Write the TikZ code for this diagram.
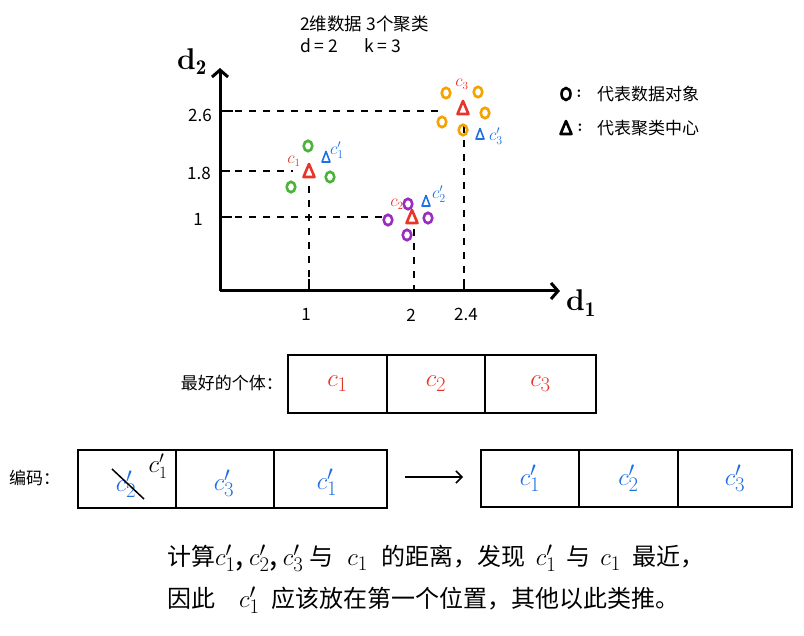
\documentclass[tikz,border=0pt]{standalone}
\usepackage{fontspec}
\newfontfamily\cjk{Noto Sans CJK SC}
\usetikzlibrary{arrows.meta}
\definecolor{hred}{HTML}{E8352A}
\definecolor{hgreen}{HTML}{4DB33D}
\definecolor{hpurple}{HTML}{9A2DBF}
\definecolor{horange}{HTML}{F4A300}
\definecolor{hblue}{HTML}{1F6FE5}
\newcommand\fs[1]{\fontsize{#1}{#1}\selectfont}
\newcommand\datapt[3]{\draw[line width=2.6pt,#3] (#1,#2) ellipse (4.3 and 5.2);}
\newcommand\ctri[3]{\draw[line width=2.6pt,#3,line join=round] (#1,#2) ++(-5.5,6) -- ++(5.5,-13) -- ++(5.5,13) -- cycle;}
\newcommand\btri[2]{\draw[line width=1.6pt,hblue,line join=round] (#1,#2) ++(-4,5) -- ++(4,-10.5) -- ++(4,10.5) -- cycle;}
\tikzset{
  axisline/.style={line width=3pt,-{Straight Barb[length=7pt,width=16pt,line width=3pt]}},
  guide/.style={line width=1.8pt,dash pattern=on 7pt off 7pt},
  tickline/.style={line width=1.8pt},
  hand/.style={font=\cjk\fs{17}, inner sep=0pt},
  cell/.style={draw,line width=2pt,minimum height=58pt,inner sep=0pt},
  cjktext/.style={font=\cjk\fs{17}, inner sep=0pt},
  bigtext/.style={font=\cjk\fs{24}, inner sep=0pt, anchor=west},
  small/.style={inner sep=0pt,font=\fs{16}}
}
\begin{document}
\begin{tikzpicture}[x=1pt,y=-1pt]
\useasboundingbox (0,0) rectangle (804,636);
% title
\node[cjktext,anchor=west,font=\cjk\fs{17.5}] (title1) at (300,24) {2维数据 3个聚类};
\node[cjktext,anchor=west,font=\cjk\fs{17.5}] (title2) at (300,46) {d = 2\hspace{26pt}k = 3};
% axes
\coordinate (O) at (220,291);
\coordinate (ytop) at (220,68);
\coordinate (xend) at (560,291);
\draw[axisline] (O) -- (ytop);
\draw[axisline] (O) -- (xend);
\node[inner sep=0pt,font=\bfseries\fs{30}] (d2) at (192,62) {d$_{\mathbf 2}$};
\node[inner sep=0pt,font=\bfseries\fs{30}] (d1) at (581,303) {d$_{\mathbf 1}$};
% y ticks
\coordinate (y26) at (220,111); \coordinate (y18) at (220,171); \coordinate (y1) at (220,217);
\draw[tickline] (y26) -- ++(13,0);
\draw[tickline] (y18) -- ++(10,0);
\draw[tickline] (y1) -- ++(12,0);
\node[hand] (l26) at (200,115) {2.6};
\node[hand] (l18) at (199,173) {1.8};
\node[hand] (l1y) at (198,219) {1};
% x ticks
\coordinate (x1) at (309,291); \coordinate (x2) at (414,291); \coordinate (x24) at (464,291);
\draw[tickline] (x1) -- ++(0,-12);
\draw[tickline] (x24) -- ++(0,-12);
\node[hand] (l1x) at (306,314) {1};
\node[hand] (l2x) at (411,315) {2};
\node[hand] (l24x) at (466,314) {2.4};
% guides
\draw[guide] (235,111) -- (440,111);
\draw[guide] (235,171) -- (293,171);
\draw[guide] (235,217) -- (382,217);
\draw[guide] (309,186) -- (309,279);
\draw[guide] (414,229) -- (414,291);
\draw[guide] (464,126) -- (464,279);
% cluster 1
\datapt{308}{146}{hgreen}
\datapt{291}{187}{hgreen}
\datapt{330}{177}{hgreen}
\ctri{309}{171}{hred}
\node[small,text=hred] (c1lab) at (294,161) {$c_1$};
\btri{326}{157}
\node[small,text=hblue,font=\fs{17}] (c1plab) at (337,150) {$c_1'$};
% cluster 2
\datapt{408}{204}{hpurple}
\datapt{388}{220}{hpurple}
\datapt{428}{218}{hpurple}
\datapt{407}{235}{hpurple}
\ctri{412}{217}{hred}
\node[small,text=hred] (c2lab) at (397,204) {$c_2$};
\btri{426}{201}
\node[small,text=hblue,font=\fs{17}] (c2plab) at (439,194) {$c_2'$};
% cluster 3
\datapt{446}{93}{horange}
\datapt{478}{92}{horange}
\datapt{485}{113}{horange}
\datapt{442}{122}{horange}
\datapt{463}{130}{horange}
\ctri{463}{108}{hred}
\node[small,text=hred] (c3lab) at (462,84) {$c_3$};
\btri{480}{134}
\node[small,text=hblue,font=\fs{17}] (c3plab) at (496,136) {$c_3'$};
% legend
\draw[line width=2.6pt] (566,94) ellipse (4.5 and 6);
\node[cjktext,font=\bfseries\fs{17}] (lcolon1) at (579,94) {:};
\node[cjktext,anchor=west] (leg1) at (597,94) {代表数据对象};
\ctri{566}{128}{black}
\node[cjktext,font=\bfseries\fs{17}] (lcolon2) at (580,128) {:};
\node[cjktext,anchor=west] (leg2) at (597,128) {代表聚类中心};
% box 1
\node[cjktext,anchor=east] (bestlab) at (283,383) {最好的个体：};
\node[cell,minimum width=99pt] (b1a) at (337.5,384) {};
\node[cell,minimum width=98pt] (b1b) at (436,384) {};
\node[cell,minimum width=111pt] (b1c) at (540.5,384) {};
\node[text=hred,font=\fs{30},inner sep=0pt] (t1a) at (b1a) {$c_1$};
\node[text=hred,font=\fs{30},inner sep=0pt] (t1b) at (b1b) {$c_2$};
\node[text=hred,font=\fs{30},inner sep=0pt] (t1c) at (b1c) {$c_3$};
% box 2
\node[cjktext,anchor=west] (codelab) at (9,478) {编码：};
\node[cell,minimum width=98pt] (b2a) at (127,479) {};
\node[cell,minimum width=98pt] (b2b) at (225,479) {};
\node[cell,minimum width=113pt] (b2c) at (330.5,479) {};
\node[text=hblue,font=\fs{30},inner sep=0pt] (t2a) at (126,484) {$c_2'$};
\coordinate (s1) at (112,469); \coordinate (s2) at (144,499);
\draw[line width=1.5pt] (s1) -- (s2);
\node[font=\fs{24},inner sep=0pt] (t2fix) at (158,466) {$c_1'$};
\node[text=hblue,font=\fs{30},inner sep=0pt] (t2b) at (224,483) {$c_3'$};
\node[text=hblue,font=\fs{30},inner sep=0pt] (t2c) at (327,482) {$c_1'$};
% arrow
\coordinate (a1) at (405,477); \coordinate (a2) at (463,477);
\draw[line width=1.5pt,-{Straight Barb[length=6pt,width=12pt,line width=1.5pt]}] (a1) -- (a2);
% box 3
\node[cell,minimum width=98pt,minimum height=57pt] (b3a) at (530,478.5) {};
\node[cell,minimum width=99pt,minimum height=57pt] (b3b) at (628.5,478.5) {};
\node[cell,minimum width=114pt,minimum height=57pt] (b3c) at (735,478.5) {};
\node[text=hblue,font=\fs{30},inner sep=0pt] (t3a) at (b3a) {$c_1'$};
\node[text=hblue,font=\fs{30},inner sep=0pt] (t3b) at (b3b) {$c_2'$};
\node[text=hblue,font=\fs{30},inner sep=0pt] (t3c) at (b3c) {$c_3'$};
% bottom text
\node[bigtext] (line1) at (167,558) {计算{\fs{30}$c_1'$,\,$c_2'$,\,$c_3'$}\hspace{6pt}与\hspace{14pt}{\fs{30}$c_1$}\hspace{14pt}的距离，发现\hspace{10pt}{\fs{30}$c_1'$}\hspace{10pt}与\hspace{10pt}{\fs{30}$c_1$}\hspace{12pt}最近，};
\node[bigtext] (line2) at (167,600) {因此\quad{\fs{30}$c_1'$}\; 应该放在第一个位置，其他以此类推。};
\end{tikzpicture}
\end{document}
